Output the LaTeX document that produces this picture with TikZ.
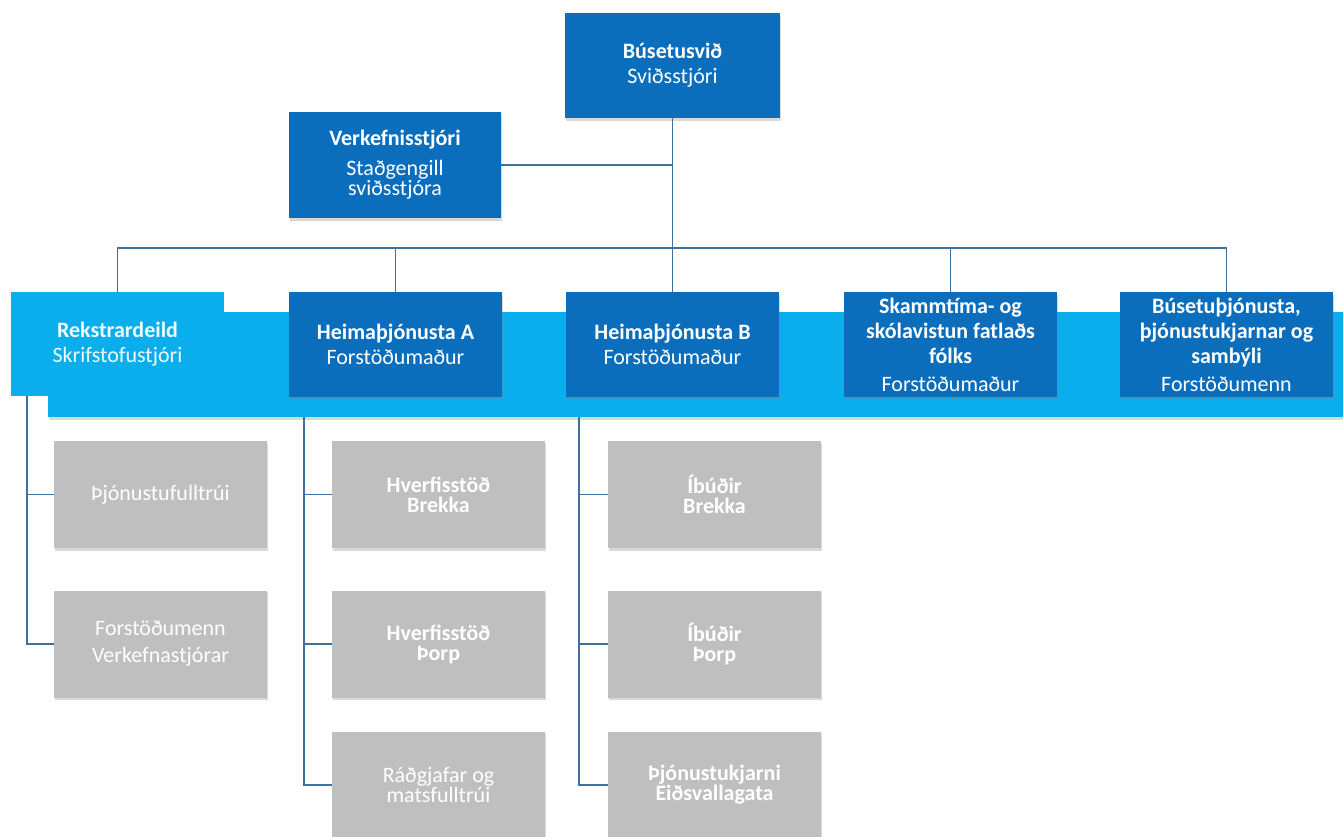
\documentclass[tikz,border=0pt]{standalone}
\usepackage{fontspec}
\setmainfont{Carlito}
\usetikzlibrary{calc,shadows}

\definecolor{dblue}{HTML}{0A6EBD}
\definecolor{lblue}{HTML}{0BAEEC}
\definecolor{gbox}{HTML}{BFBFBF}
\definecolor{lineblue}{HTML}{41709E}

\begin{document}
\begin{tikzpicture}[x=1pt,y=-1pt,
    box/.style={minimum width=213pt,minimum height=105pt,inner sep=2pt,align=center,
      text=white,font=\fontsize{22}{25}\selectfont},
    shade/.style={drop shadow={shadow xshift=1pt,shadow yshift=-2.5pt,opacity=0.3}},
    dark/.style={box,shade,fill=dblue},
    light/.style={box,fill=lblue,text=cyan!6},
    grey/.style={box,shade,fill=gbox,minimum height=107pt},
    conn/.style={draw=lineblue,line width=1.4pt}]
  \useasboundingbox (0,0) rectangle (1343,836);

  % top
  \node[dark,minimum width=215pt] (top) at (672.5,65.5) {\textbf{Búsetusvið}\\Sviðsstjóri};
  \node[dark,minimum width=212pt,minimum height=106pt] (proj) at (395,165)
    {\textbf{Verkefnisstjóri}\\[5pt]Staðgengill\\[-5pt]sviðsstjóra};

  % band and units
  \node[shade,fill=lblue,minimum width=1295pt,minimum height=105pt,inner sep=0pt] (band) at (695.5,364.5) {};
  \node[light,minimum height=104pt] (rek) at (117.5,344) {\textbf{Rekstrardeild}\\Skrifstofustjóri};
  \node[dark] (heimaA) at (395.5,344.5) {\textbf{Heimaþjónusta A}\\Forstöðumaður};
  \node[dark] (heimaB) at (672.5,344.5) {\textbf{Heimaþjónusta B}\\Forstöðumaður};
  \node[dark] (skamm) at (950.5,344.5)
    {\textbf{Skammtíma- og}\\\textbf{skólavistun fatlaðs}\\\textbf{fólks}\\[3pt]Forstöðumaður};
  \node[dark] (buset) at (1226.5,344.5)
    {\textbf{Búsetuþjónusta,}\\\textbf{þjónustukjarnar og}\\\textbf{sambýli}\\[3pt]Forstöðumenn};

  % sub units
  \node[grey] (g11) at (160.5,494.5) {Þjónustufulltrúi};
  \node[grey] (g12) at (160.5,644) {Forstöðumenn\\[2pt]Verkefnastjórar};
  \node[grey] (g21) at (438.5,494.5) {\textbf{Hverfisstöð}\\[-5pt]\textbf{Brekka}};
  \node[grey] (g22) at (438.5,644) {\textbf{Hverfisstöð}\\[-5pt]\textbf{Þorp}};
  \node[grey] (g23) at (438.5,785) {Ráðgjafar og\\[-5pt]matsfulltrúi};
  \node[grey] (g31) at (714.5,494.5) {\textbf{Íbúðir}\\[-5pt]\textbf{Brekka}};
  \node[grey] (g32) at (714.5,644) {\textbf{Íbúðir}\\[-5pt]\textbf{Þorp}};
  \node[grey] (g33) at (714.5,785) {\textbf{Þjónustukjarni}\\[-5pt]\textbf{Eiðsvallagata}};

  % connectors
  \coordinate (bus) at (0,248);
  \draw[conn] (top.south) -- (heimaB.north);
  \draw[conn] (proj.east) -- (proj.east -| top.south);
  \draw[conn] (rek.north) -- (rek.north |- bus) -- (buset.north |- bus) -- (buset.north);
  \draw[conn] (heimaA.north) -- (heimaA.north |- bus);
  \draw[conn] (skamm.north) -- (skamm.north |- bus);

  \coordinate (sR) at ([xshift=16pt]rek.south west);
  \coordinate (sA) at ([xshift=15pt]heimaA.south west);
  \coordinate (sB) at ([xshift=13pt]heimaB.south west);
  \draw[conn] (sR) |- (g11.west);
  \draw[conn] (sR) |- (g12.west);
  \draw[conn] (sA |- band.south) |- (g21.west);
  \draw[conn] (sA |- band.south) |- (g22.west);
  \draw[conn] (sA |- band.south) |- (g23.west);
  \draw[conn] (sB |- band.south) |- (g31.west);
  \draw[conn] (sB |- band.south) |- (g32.west);
  \draw[conn] (sB |- band.south) |- (g33.west);
\end{tikzpicture}
\end{document}
